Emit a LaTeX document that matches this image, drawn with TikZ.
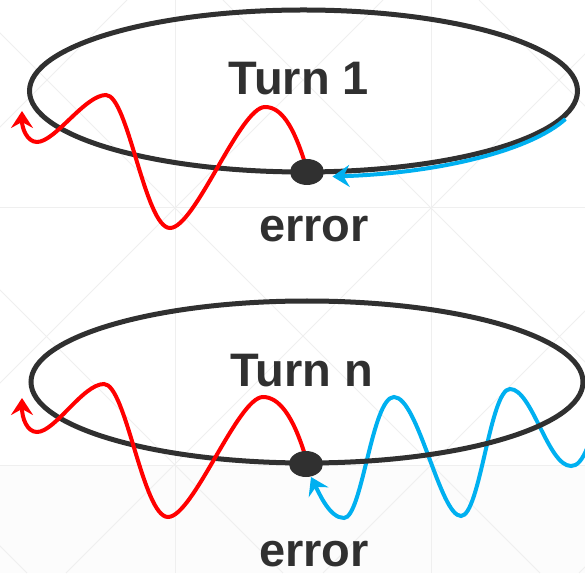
\documentclass[tikz,border=0pt]{standalone}
\usepackage{fontspec}
\setmainfont{Liberation Sans}
\usepackage{xcolor}
\usetikzlibrary{positioning,arrows.meta,shapes.geometric}

\definecolor{ringgray}{HTML}{303030}
\definecolor{errred}{HTML}{FF0000}
\definecolor{errblue}{HTML}{00B0F0}
\definecolor{gridgray}{HTML}{EFEFEF}
\definecolor{floorgray}{HTML}{FCFCFC}

\begin{document}
\begin{tikzpicture}[x=1pt,y=1pt,
  ring/.style={draw=ringgray,line width=5pt},
  dot/.style={ellipse,fill=ringgray,minimum width=34pt,minimum height=26pt,inner sep=0pt},
  turntext/.style={font=\bfseries\fontsize{47}{47}\selectfont,text=ringgray,anchor=base,inner sep=0pt},
  wavetip/.style={-{Stealth[length=17pt,width=22pt,inset=6pt]}},
  redwave/.style={draw=errred,line width=4pt,wavetip},
  bluewave/.style={draw=errblue,line width=4pt,wavetip}]

\useasboundingbox (0,0) rectangle (585,573);

% faint background
\fill[floorgray] (0,0) rectangle (585,108);
\begin{scope}
\clip (0,0) rectangle (585,573);
\foreach \s in {27,283,540,796,1052}
  \draw[gridgray,line width=1pt] (\s,0) -- ++(-573,573);
\foreach \t in {-446,-190,66,323,579}
  \draw[gridgray,line width=1pt] (\t,0) -- ++(573,573);
\draw[gridgray,line width=1pt] (175,0) -- (175,573) (431,0) -- (431,573)
  (0,365) -- (585,365) (0,108) -- (585,108);
\end{scope}

\coordinate (c1) at (303.5,482);
\coordinate (cn) at (307,191);

% turn 1
\draw[ring] (c1) ellipse [x radius=274, y radius=81];
\draw[bluewave] ([shift={(-19:277 and 86)}]c1) arc[start angle=-19, end angle=-84, x radius=277, y radius=86];
\draw[redwave] (305,410) .. controls (293,448) and (281,466) .. (265,466)
  .. controls (240,466) and (195,345) .. (170,345)
  .. controls (145,345) and (128,478) .. (106,478)
  .. controls (85,478) and (55,431) .. (37,431)
  .. controls (27,431) and (22,445) .. (22,462);

\node[dot] (err1) at (307,401) {};
\node[turntext] (turn1) at (299,478) {Turn 1};
\node[turntext] (lab1) at (314,331) {error};

% turn n
\draw[bluewave] (588,127) .. controls (582,112) and (577,107) .. (571,107)
  .. controls (548,107) and (532,184) .. (510,184)
  .. controls (490,184) and (480,57) .. (461,57)
  .. controls (440,57) and (418,176) .. (394,176)
  .. controls (372,176) and (362,55) .. (344,55)
  .. controls (330,55) and (320,78) .. (311,96);
\draw[ring] (cn) ellipse [x radius=276, y radius=81];
\draw[redwave] (305,118) .. controls (293,157) and (279,176) .. (263,176)
  .. controls (238,176) and (193,56) .. (168,56)
  .. controls (143,56) and (126,189) .. (104,189)
  .. controls (83,189) and (55,141) .. (37,141)
  .. controls (27,141) and (22,155) .. (22,175);

\node[dot] (errn) at (306,109) {};
\node[turntext] (turnn) at (302,187) {Turn n};
\node[turntext] (labn) at (314,7) {error};

\end{tikzpicture}
\end{document}
